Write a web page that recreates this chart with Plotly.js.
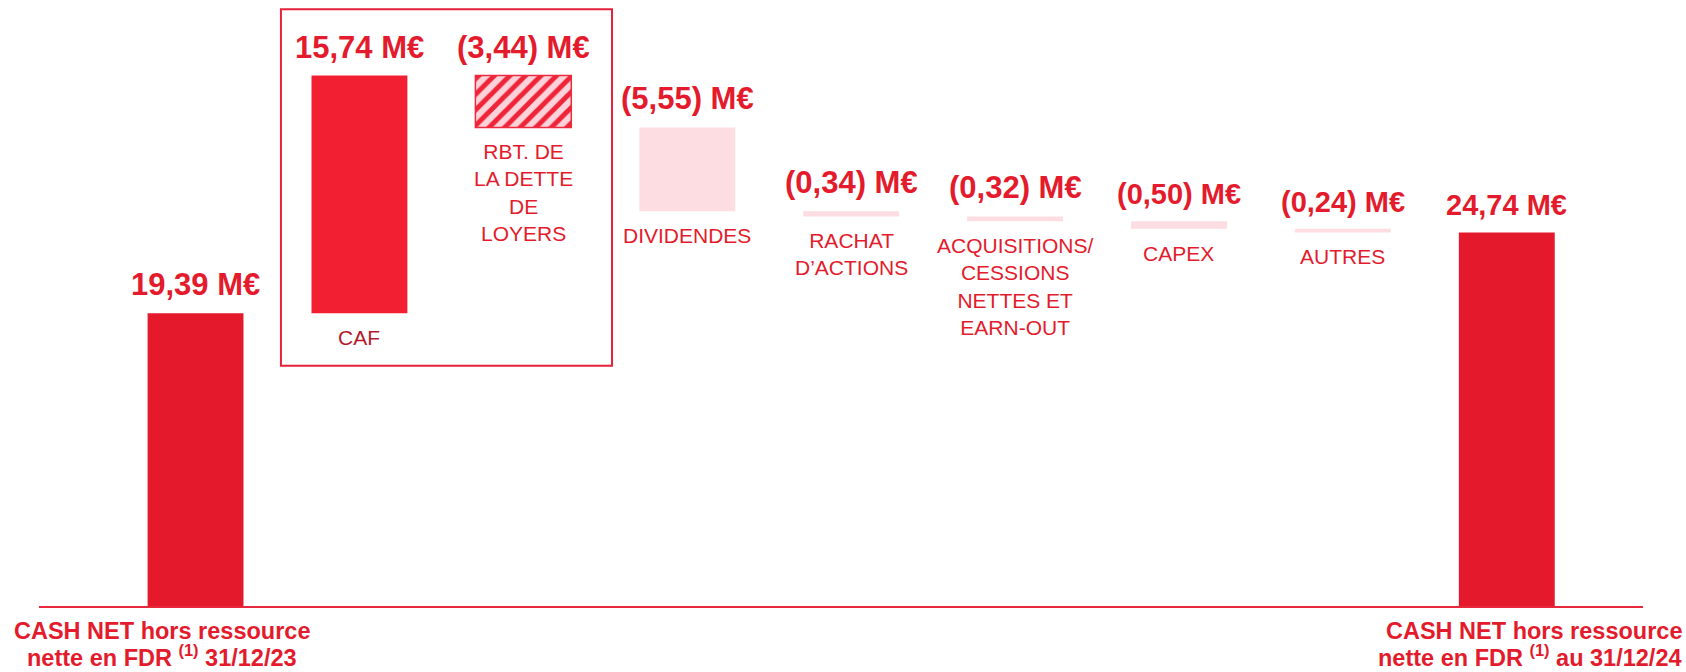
<!DOCTYPE html>
<html>
<head>
<meta charset="utf-8">
<script src="https://cdn.plot.ly/plotly-3.0.1.min.js"></script>
<style>html,body{margin:0;padding:0;background:#fff;}#chart{width:1686px;height:672px;}</style>
</head>
<body>
<div id="chart"></div>
<script>
// ---- DATA ----
const categories = ["START", "CAF", "RBT", "DIVIDENDES", "RACHAT", "ACQ", "CAPEX", "AUTRES", "END"];
const categoryLabels = [
  "CASH NET hors ressource<br>nette en FDR <sup>(1)</sup> 31/12/23",
  "CAF",
  "RBT. DE<br>LA DETTE<br>DE<br>LOYERS",
  "DIVIDENDES",
  "RACHAT<br>D’ACTIONS",
  "ACQUISITIONS/<br>CESSIONS<br>NETTES ET<br>EARN-OUT",
  "CAPEX",
  "AUTRES",
  "CASH NET hors ressource<br>nette en FDR <sup>(1)</sup> au 31/12/24"
];
const startValue = 19.39;
const movementValues = [15.74, -3.44, -5.55, -0.34, -0.32, -0.50, -0.24];
const endValue = 24.74;

// ---- STYLES ----
const RED = "#E4192C";
const RED_BRIGHT = "#F21F33";
const PINK = "#FEDDE2";
const TEXT_RED = "#E31B2C";
const FONT = "'Liberation Sans', Arial, sans-serif";

// Build waterfall geometry from the data
const moveCats = categories.slice(1, 8);
const bases = [];
let run = startValue;
movementValues.forEach(v => { bases.push(run); run += v; });

function fmt(v) {
  const s = Math.abs(v).toFixed(2).replace(".", ",");
  return v < 0 ? "(" + s + ") M€" : s + " M€";
}

const barW = 0.585;
const traces = [];
// solid start / end
traces.push({
  type: "bar", x: [categories[0], categories[8]], y: [startValue, endValue],
  width: barW, marker: {color: RED, line: {width: 0}}, hoverinfo: "skip", cliponaxis: false
});
// CAF (positive movement)
const posIdx = movementValues.map((v, i) => i).filter(i => movementValues[i] > 0);
traces.push({
  type: "bar", x: posIdx.map(i => moveCats[i]), y: posIdx.map(i => movementValues[i]),
  base: posIdx.map(i => bases[i]), width: barW,
  marker: {color: RED_BRIGHT, line: {width: 0}}, hoverinfo: "skip"
});
// hatched : lease debt repayment
traces.push({
  type: "bar", x: [moveCats[1]], y: [movementValues[1]], base: [bases[1]], width: barW,
  marker: {color: "#FDD3D9", line: {color: "#EE2A3E", width: 1.5},
           pattern: {shape: "/", fgcolor: "#EF2438", bgcolor: "#FDD3D9", size: 11, solidity: 0.45}},
  hoverinfo: "skip"
});
// pale negative movements
const paleIdx = [2, 3, 4, 5, 6];
traces.push({
  type: "bar", x: paleIdx.map(i => moveCats[i]), y: paleIdx.map(i => movementValues[i]),
  base: paleIdx.map(i => bases[i]), width: barW,
  marker: {color: PINK, line: {width: 0}}, hoverinfo: "skip"
});

// ---- ANNOTATIONS ----
const annotations = [];
const valueSizes = [31, 31, 31, 31, 31, 31, 29, 29, 29];
// value labels
const tops = [startValue].concat(movementValues.map((v, i) => Math.max(bases[i], bases[i] + v))).concat([endValue]);
const bottoms = [0].concat(movementValues.map((v, i) => Math.min(bases[i], bases[i] + v))).concat([0]);
const allValues = [startValue].concat(movementValues).concat([endValue]);
categories.forEach((c, i) => {
  annotations.push({
    x: c, y: tops[i], xref: "x", yref: "y", text: "<b>" + fmt(allValues[i]) + "</b>",
    showarrow: false, yanchor: "bottom", xanchor: "center", yshift: 9,
    font: {family: FONT, size: valueSizes[i], color: TEXT_RED}
  });
});
// movement category labels
for (let i = 1; i <= 7; i++) {
  annotations.push({
    x: categories[i], y: bottoms[i], xref: "x", yref: "y", text: categoryLabels[i],
    showarrow: false, yanchor: "top", xanchor: "center", yshift: -11, align: "center",
    font: {family: FONT, size: 21, color: i === 1 ? "#B5182B" : TEXT_RED}
  });
}
// start / end labels below the axis (one annotation per line for tighter spacing)
const lineShifts = [-25, -50];
categoryLabels[0].split("<br>").forEach((ln, k) => {
  annotations.push({
    x: 0, y: 0, xref: "paper", yref: "y", text: "<b>" + ln + "</b>",
    showarrow: false, yanchor: "middle", xanchor: "center", xshift: 123, yshift: lineShifts[k],
    borderpad: 0, font: {family: FONT, size: 23.5, color: TEXT_RED}
  });
});
categoryLabels[8].split("<br>").forEach((ln, k) => {
  annotations.push({
    x: 1, y: 0, xref: "paper", yref: "y", text: "<b>" + ln + "</b>",
    showarrow: false, yanchor: "middle", xanchor: "right", xshift: 40, yshift: lineShifts[k],
    borderpad: 0, font: {family: FONT, size: 23.5, color: TEXT_RED}
  });
});

const layout = {
  width: 1686, height: 672,
  margin: {l: 39, r: 43, t: 2, b: 66, pad: 0},
  paper_bgcolor: "#fff", plot_bgcolor: "#fff",
  barmode: "overlay", showlegend: false,
  xaxis: {type: "category", categoryorder: "array", categoryarray: categories,
          range: [-0.955, 8.831], showline: true, linecolor: "#E8283D", linewidth: 1.5,
          showticklabels: false, ticks: "", showgrid: false, zeroline: false, fixedrange: true},
  yaxis: {range: [0, 40], visible: false, showgrid: false, zeroline: false, fixedrange: true},
  shapes: [{type: "rect", xref: "x", yref: "y", x0: 0.521, x1: 2.541, y0: 15.91, y1: 39.52,
            line: {color: "#E4223A", width: 2}, fillcolor: "rgba(0,0,0,0)"}],
  annotations: annotations
};

Plotly.newPlot("chart", traces, layout, {displayModeBar: false, staticPlot: true});
</script>
</body>
</html>
